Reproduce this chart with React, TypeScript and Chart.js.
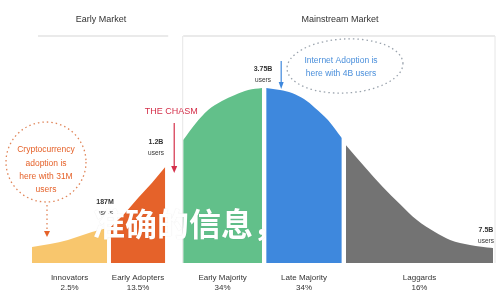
import React, { useEffect, useRef } from "react";
import { Chart, registerables } from "chart.js";

Chart.register(...registerables);

// Segment names and shares (x-axis tick labels)
const segmentNames = ["Innovators", "Early Adopters", "Early Majority", "Late Majority", "Laggards"];
const segmentShares = ["2.5%", "13.5%", "34%", "34%", "16%"];
const segmentColors = ["#F8C66D", "#E5622A", "#62C08A", "#3E88DD", "#737373"];

// Curve samples per segment (x: adoption timeline 0..100, y: relative adoption height)
const innovatorsX = [0, 3.9, 7.8, 13.0, 16.3];
const innovatorsY = [7.3, 8.6, 10.5, 14.1, 15.9];
const earlyAdoptersX = [17.1, 20.2, 23.0, 26.0, 28.9];
const earlyAdoptersY = [16.4, 22.7, 29.5, 36.4, 43.6];
const earlyMajorityX = [32.8, 35.4, 38.2, 41.2, 44.0, 46.9, 49.9];
const earlyMajorityY = [55.9, 63.2, 69.5, 73.6, 76.4, 78.6, 79.5];
const lateMajorityX = [50.8, 53.8, 56.4, 59.0, 61.4, 64.2, 67.2];
const lateMajorityY = [79.5, 78.6, 77.3, 74.5, 70.5, 65.0, 56.8];
const laggardsX = [68.1, 72.2, 76.1, 79.8, 83.5, 87.4, 90.7, 95.0, 100];
const laggardsY = [53.6, 43.6, 34.5, 26.8, 19.5, 14.1, 10.5, 8.2, 6.8];

const segmentXs = [innovatorsX, earlyAdoptersX, earlyMajorityX, lateMajorityX, laggardsX];
const segmentYs = [innovatorsY, earlyAdoptersY, earlyMajorityY, lateMajorityY, laggardsY];

// Annotation texts
const marketLabels = ["Early Market", "Mainstream Market"];
const chasmLabel = "THE CHASM";
const milestoneLabels = ["187M", "1.2B", "3.75B", "7.5B"];
const cryptoNote = ["Cryptocurrency", "adoption is", "here with 31M", "users"];
const internetNote = ["Internet Adoption is", "here with 4B users"];
const overlayText = "准确的信息，";

const FONT = "'Liberation Sans', Arial, sans-serif";

const annotationPlugin = {
  id: "adoptionAnnotations",
  beforeDatasetsDraw(chart: any) {
    const { ctx, chartArea, scales } = chart;
    const xs = scales.x;
    const chasmX = xs.getPixelForValue(earlyMajorityX[0]);
    const eaEnd = xs.getPixelForValue(earlyAdoptersX[earlyAdoptersX.length - 1]);
    const topY = 36;
    ctx.save();
    ctx.strokeStyle = "#e3e3e3";
    ctx.lineWidth = 1.5;
    ctx.beginPath();
    ctx.moveTo(38, topY);
    ctx.lineTo(eaEnd + 3, topY);
    ctx.moveTo(chasmX, topY);
    ctx.lineTo(chartArea.right + 2, topY);
    ctx.stroke();
    ctx.lineWidth = 1;
    ctx.strokeStyle = "#e6e6e6";
    ctx.beginPath();
    ctx.moveTo(chasmX - 0.5, topY);
    ctx.lineTo(chasmX - 0.5, chartArea.bottom);
    ctx.moveTo(chartArea.right + 2, topY);
    ctx.lineTo(chartArea.right + 2, chartArea.bottom);
    ctx.stroke();
    ctx.restore();
  },
  afterDatasetsDraw(chart: any) {
    const { ctx, scales } = chart;
    const xs = scales.x;
    const ys = scales.y;
    ctx.save();
    ctx.textAlign = "center";
    ctx.textBaseline = "middle";

    // market titles
    ctx.fillStyle = "#333";
    ctx.font = `9px ${FONT}`;
    ctx.fillText(marketLabels[0], 101, 20);
    ctx.fillText(marketLabels[1], 340, 20);

    // chasm
    const chasmMid = (xs.getPixelForValue(earlyAdoptersX[earlyAdoptersX.length - 1]) + xs.getPixelForValue(earlyMajorityX[0])) / 2;
    ctx.fillStyle = "#D4304A";
    ctx.font = `9px ${FONT}`;
    ctx.fillText(chasmLabel, chasmMid - 3, 112);
    ctx.strokeStyle = "#D4304A";
    ctx.lineWidth = 1.2;
    ctx.beginPath();
    ctx.moveTo(chasmMid, 123);
    ctx.lineTo(chasmMid, 168);
    ctx.stroke();
    ctx.beginPath();
    ctx.moveTo(chasmMid - 3, 166);
    ctx.lineTo(chasmMid + 3, 166);
    ctx.lineTo(chasmMid, 173);
    ctx.closePath();
    ctx.fillStyle = "#D4304A";
    ctx.fill();

    // milestone labels
    ctx.fillStyle = "#333";
    const ms = (t: string, x: number, y: number) => {
      ctx.font = `bold 7px ${FONT}`;
      ctx.fillText(t, x, y);
      ctx.font = `6.5px ${FONT}`;
      ctx.fillText("users", x, y + 11);
    };
    ms(milestoneLabels[0], 105, 202);
    ms(milestoneLabels[1], 156, 142);
    ms(milestoneLabels[2], 263, 69);
    ms(milestoneLabels[3], 486, 230);

    // internet arrow
    const peakX = xs.getPixelForValue(lateMajorityX[0]) + 15;
    ctx.strokeStyle = "#3E88DD";
    ctx.lineWidth = 1.2;
    ctx.beginPath();
    ctx.moveTo(peakX, 61);
    ctx.lineTo(peakX, 83);
    ctx.stroke();
    ctx.beginPath();
    ctx.moveTo(peakX - 2.5, 82);
    ctx.lineTo(peakX + 2.5, 82);
    ctx.lineTo(peakX, ys.getPixelForValue(lateMajorityY[0]) + 1);
    ctx.closePath();
    ctx.fillStyle = "#3E88DD";
    ctx.fill();

    // internet ellipse
    ctx.setLineDash([1.5, 3]);
    ctx.strokeStyle = "#9aa3ad";
    ctx.lineWidth = 1.3;
    ctx.beginPath();
    ctx.ellipse(345, 66, 58, 27, -0.05, 0, Math.PI * 2);
    ctx.stroke();
    ctx.fillStyle = "#4A8FDB";
    ctx.font = `8.5px ${FONT}`;
    ctx.fillText(internetNote[0], 341, 61);
    ctx.fillText(internetNote[1], 341, 74);

    // crypto circle
    ctx.strokeStyle = "#E0865A";
    ctx.beginPath();
    ctx.arc(46, 162, 40, 0, Math.PI * 2);
    ctx.stroke();
    ctx.beginPath();
    ctx.moveTo(47, 205);
    ctx.lineTo(47, 232);
    ctx.stroke();
    ctx.setLineDash([]);
    ctx.fillStyle = "#E5622A";
    ctx.beginPath();
    ctx.moveTo(44, 231);
    ctx.lineTo(50, 231);
    ctx.lineTo(47, 237);
    ctx.closePath();
    ctx.fill();
    ctx.font = `8.5px ${FONT}`;
    cryptoNote.forEach((t, i) => ctx.fillText(t, 46, 150 + i * 13.3));

    // overlay Chinese text
    ctx.textAlign = "left";
    ctx.font = `bold 32px 'Noto Sans CJK SC', sans-serif`;
    ctx.shadowColor = "rgba(0,0,0,0.12)";
    ctx.shadowBlur = 1;
    ctx.fillStyle = "#ffffff";
    ctx.fillText(overlayText, 93, 224);
    ctx.restore();
  },
};

export default function App() {
  const ref = useRef<HTMLCanvasElement>(null);
  useEffect(() => {
    const canvas = ref.current;
    if (!canvas) return;
    const datasets = segmentXs.map((xsArr, i) => ({
      label: segmentNames[i],
      data: xsArr.map((x, j) => ({ x, y: segmentYs[i][j] })),
      backgroundColor: segmentColors[i],
      borderColor: segmentColors[i],
      borderWidth: 0,
      pointRadius: 0,
      fill: "origin",
      cubicInterpolationMode: "monotone" as const,
    }));
    const centers = segmentXs.map((a) => (a[0] + a[a.length - 1]) / 2);
    const chart = new Chart(canvas, {
      type: "line",
      data: { datasets },
      plugins: [annotationPlugin],
      options: {
        animation: false,
        responsive: false,
        maintainAspectRatio: false,
        layout: { padding: { left: 32, right: 7, top: 43, bottom: 9 } },
        plugins: { legend: { display: false }, tooltip: { enabled: false } },
        scales: {
          x: {
            type: "linear",
            min: 0,
            max: 100,
            grid: { display: false, drawTicks: false },
            border: { display: false },
            afterBuildTicks: (axis: any) => {
              axis.ticks = centers.map((v) => ({ value: v }));
            },
            afterFit: (axis: any) => {
              axis.height = 28;
            },
            ticks: {
              autoSkip: false,
              maxRotation: 0,
              padding: 9,
              color: "#333",
              font: { family: FONT, size: 8, lineHeight: 1.35 },
              callback: (_v: any, i: number) => [segmentNames[i], segmentShares[i]],
            },
          },
          y: { display: false, min: 0, max: 100 },
        },
      },
    });
    return () => chart.destroy();
  }, []);
  return (
    <div style={{ position: "fixed", left: 0, top: 0, width: 500, height: 300, background: "#fff" }}>
      <canvas ref={ref} width={500} height={300} style={{ width: 500, height: 300, display: "block" }} />
    </div>
  );
}
